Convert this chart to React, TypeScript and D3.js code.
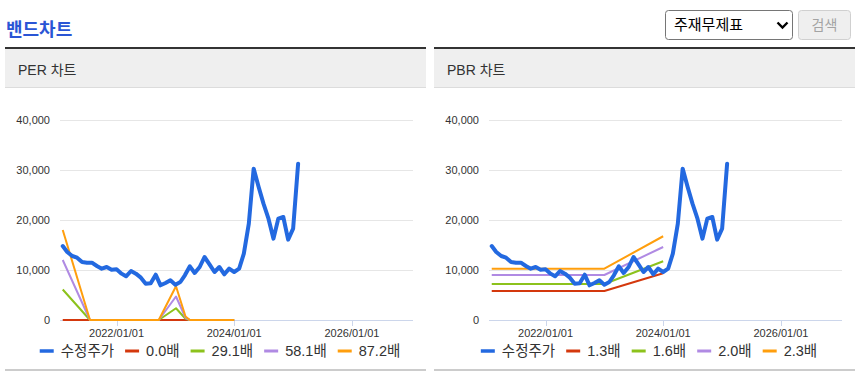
import React, { useEffect, useRef } from "react";
import * as d3 from "d3";

// ---- data ----
const priceMonths = [
  "2021-02", "2021-03", "2021-04", "2021-05", "2021-06", "2021-07", "2021-08", "2021-09", "2021-10", "2021-11", "2021-12",
  "2022-01", "2022-02", "2022-03", "2022-04", "2022-05", "2022-06", "2022-07", "2022-08", "2022-09", "2022-10", "2022-11", "2022-12",
  "2023-01", "2023-02", "2023-03", "2023-04", "2023-05", "2023-06", "2023-07", "2023-08", "2023-09", "2023-10", "2023-11", "2023-12",
  "2024-01", "2024-02", "2024-03", "2024-04", "2024-05", "2024-06", "2024-07", "2024-08", "2024-09", "2024-10", "2024-11", "2024-12",
  "2025-01", "2025-02",
];
const priceValues = [
  14800, 13600, 12800, 12470, 11600, 11470, 11470, 10800, 10270, 10600, 10070,
  10140, 9270, 8740, 9800, 9270, 8470, 7270, 7340, 9070, 6940, 7400, 7940,
  7070, 7600, 8940, 10740, 9400, 10600, 12600, 11140, 9600, 10600, 9140, 10270,
  9600, 10270, 13270, 19270, 30270, 26600, 23270, 20270, 16270, 20270, 20600, 16070,
  18270, 31270,
];

const perBandDates = ["2021-02-01", "2021-07-20", "2022-09-20", "2023-01-05", "2023-03-05", "2023-04-01", "2024-01-01"];
const perLabels = ["0.0배", "29.1배", "58.1배", "87.2배"];
const perBand1 = [0, 0, 0, 0, 0, 0, 0];
const perBand2 = [6100, 0, 0, 2350, 250, 0, 0];
const perBand3 = [12000, 0, 0, 4700, 450, 0, 0];
const perBand4 = [18000, 0, 0, 6750, 700, 0, 0];

const pbrBandDates = ["2021-02-01", "2023-01-01", "2024-01-01"];
const pbrLabels = ["1.3배", "1.6배", "2.0배", "2.3배"];
const pbrBand1 = [5800, 5800, 9350];
const pbrBand2 = [7200, 7200, 11750];
const pbrBand3 = [9000, 9000, 14600];
const pbrBand4 = [10270, 10270, 16750];

const priceLabel = "수정주가";
const xTickDates = ["2022-01-01", "2024-01-01", "2026-01-01"];
const yTickValues = [0, 10000, 20000, 30000, 40000];

const priceColor = "#2369e0";
const bandColors = ["#d4380d", "#8cc21c", "#b08ae3", "#ff9e0d"];
const FONT = "'Liberation Sans', 'Noto Sans CJK KR', sans-serif";

export default function App() {
  const ref = useRef<SVGSVGElement>(null);

  useEffect(() => {
    const svg = d3.select(ref.current);
    svg.selectAll("*").remove();
    const parseDay = d3.timeParse("%Y-%m-%d");
    const parseMonth = d3.timeParse("%Y-%m");
    const fmt = d3.timeFormat("%Y/%m/%d");

    // page title
    svg.append("text").attr("x", 6).attr("y", 36).text("밴드차트")
      .attr("font-family", FONT).attr("font-size", 18).attr("font-weight", "bold").attr("fill", "#2a55d5");

    // select box
    svg.append("rect").attr("x", 665.5).attr("y", 10.5).attr("width", 127).attr("height", 29).attr("rx", 3)
      .attr("fill", "#fff").attr("stroke", "#767676");
    svg.append("text").attr("x", 674).attr("y", 30).text("주재무제표")
      .attr("font-family", FONT).attr("font-size", 15).attr("fill", "#000");
    svg.append("path").attr("d", "M777.5 22.5 L782.5 27.5 L787.5 22.5").attr("fill", "none")
      .attr("stroke", "#000").attr("stroke-width", 2.4);
    // button
    svg.append("rect").attr("x", 798.5).attr("y", 10.5).attr("width", 52).attr("height", 29).attr("rx", 3)
      .attr("fill", "#efefef").attr("stroke", "#d0d0d0");
    svg.append("text").attr("x", 824.5).attr("y", 30).attr("text-anchor", "middle").text("검색")
      .attr("font-family", FONT).attr("font-size", 14).attr("fill", "#a3a3a3");

    const drawPanel = (ox: number, title: string, bandDates: string[], bands: number[][], labels: string[]) => {
      const g = svg.append("g");
      const W = 421;
      g.append("rect").attr("x", ox).attr("y", 47).attr("width", W).attr("height", 2).attr("fill", "#333");
      g.append("rect").attr("x", ox).attr("y", 49).attr("width", W).attr("height", 38).attr("fill", "#efefef");
      g.append("rect").attr("x", ox).attr("y", 87).attr("width", W).attr("height", 1).attr("fill", "#dcdcdc");
      g.append("text").attr("x", ox + 13).attr("y", 75).text(title)
        .attr("font-family", FONT).attr("font-size", 14).attr("fill", "#333");
      g.append("rect").attr("x", ox).attr("y", 369).attr("width", W).attr("height", 2).attr("fill", "#cccccc");

      const x = d3.scaleTime().domain([new Date(2021, 0, 15), new Date(2027, 0, 15)]).range([ox + 55, ox + 408]);
      const y = d3.scaleLinear().domain([0, 40000]).range([320, 120]);

      // grid
      yTickValues.forEach((v) => {
        if (v !== 0) {
          g.append("line").attr("x1", ox + 55).attr("x2", ox + 408)
            .attr("y1", Math.round(y(v)) + 0.5).attr("y2", Math.round(y(v)) + 0.5)
            .attr("stroke", "#e6e6e6");
        }
        g.append("text").attr("x", ox + 45).attr("y", y(v)).attr("dy", "0.35em").attr("text-anchor", "end")
          .text(d3.format(",")(v)).attr("font-family", FONT).attr("font-size", 11).attr("fill", "#333");
      });
      // x axis
      g.append("line").attr("x1", ox + 55).attr("x2", ox + 408).attr("y1", 320.5).attr("y2", 320.5)
        .attr("stroke", "#ccd6eb");
      xTickDates.forEach((s) => {
        const d = parseDay(s)!;
        const xx = Math.round(x(d)) + 0.5;
        g.append("line").attr("x1", xx).attr("x2", xx).attr("y1", 320).attr("y2", 326).attr("stroke", "#ccd6eb");
        g.append("text").attr("x", x(d)).attr("y", 337).attr("text-anchor", "middle").text(fmt(d))
          .attr("font-family", FONT).attr("font-size", 11).attr("fill", "#333");
      });

      const line = d3.line<[Date, number]>().x((d) => x(d[0])).y((d) => y(d[1]));
      bands.forEach((vals, i) => {
        const pts: [Date, number][] = bandDates.map((s, k) => [parseDay(s)!, vals[k]]);
        g.append("path").attr("d", line(pts)!).attr("fill", "none").attr("stroke", bandColors[i])
          .attr("stroke-width", 2).attr("stroke-linejoin", "round");
      });
      const ppts: [Date, number][] = priceMonths.map((s, k) => [parseMonth(s)!, priceValues[k]]);
      g.append("path").attr("d", line(ppts)!).attr("fill", "none").attr("stroke", priceColor)
        .attr("stroke-width", 4).attr("stroke-linejoin", "round").attr("stroke-linecap", "round");

      // legend
      const lg = g.append("g");
      const items = [{ label: priceLabel, color: priceColor, w: 3.5 }].concat(
        labels.map((l, i) => ({ label: l, color: bandColors[i], w: 3 }))
      );
      let cx = 0;
      items.forEach((it) => {
        lg.append("line").attr("x1", cx).attr("x2", cx + 14).attr("y1", 351).attr("y2", 351)
          .attr("stroke", it.color).attr("stroke-width", it.w);
        const t = lg.append("text").attr("x", cx + 21).attr("y", 356).text(it.label)
          .attr("font-family", FONT).attr("font-size", 14.5).attr("fill", "#333");
        const tw = (t.node() as SVGTextElement).getComputedTextLength();
        cx += 21 + tw + 11;
      });
      const total = cx - 11;
      lg.attr("transform", `translate(${ox + 215 - total / 2},0)`);
    };

    drawPanel(5, "PER 차트", perBandDates, [perBand1, perBand2, perBand3, perBand4], perLabels);
    drawPanel(434, "PBR 차트", pbrBandDates, [pbrBand1, pbrBand2, pbrBand3, pbrBand4], pbrLabels);
  }, []);

  return (
    <div style={{ position: "absolute", left: 0, top: 0 }}>
      <svg ref={ref} width={858} height={381} style={{ display: "block", background: "#fff" }} />
    </div>
  );
}
